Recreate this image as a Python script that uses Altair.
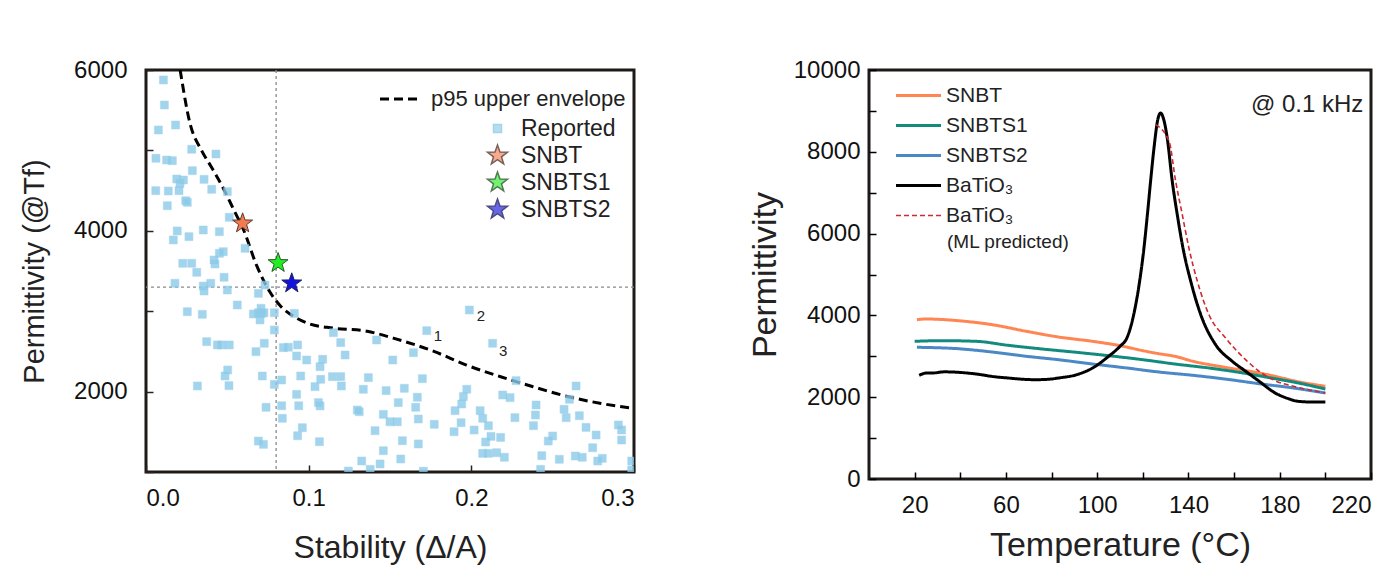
import altair as alt
import pandas as pd

FONT = "Liberation Sans"

# ---------------- left panel data ----------------
rep_x = [0.0107, 0.0113, 0.0182, 0.0076, 0.0281, 0.0430, 0.0061, 0.0127, 0.0162, 0.0285,
         0.0189, 0.0230, 0.0209, 0.0357, 0.0060, 0.0137, 0.0203, 0.0404, 0.0500, 0.0131,
         0.0244, 0.0254, 0.0512, 0.0192, 0.0168, 0.0264, 0.0352, 0.0451, 0.0609, 0.0475,
         0.0451, 0.0226, 0.0281, 0.0418, 0.0424,
         0.0312, 0.0480, 0.0178, 0.0352, 0.0357, 0.0398, 0.0500, 0.0732, 0.0691, 0.0561,
         0.0254, 0.0346, 0.0660, 0.0691, 0.0711, 0.0725, 0.0701, 0.0707, 0.0789, 0.0912,
         0.0789, 0.0373, 0.0439, 0.0465, 0.0512, 0.0727, 0.0676, 0.0844, 0.0875, 0.0932,
         0.0926, 0.0988, 0.0502, 0.0486, 0.0510, 0.0316, 0.0715, 0.0834, 0.0789, 0.0951,
         0.0926, 0.0738, 0.0834, 0.0939, 0.0838, 0.0961, 0.0932, 0.0691, 0.0722,
         0.1988, 0.1726, 0.2131, 0.1152, 0.1197, 0.1224, 0.1418, 0.1644, 0.1517, 0.1086,
         0.1070, 0.1074, 0.1146, 0.1197, 0.1201, 0.1367, 0.1699, 0.1039, 0.1336, 0.1476,
         0.1588, 0.1668, 0.1551, 0.1658, 0.1060, 0.1070, 0.1299, 0.1311, 0.1459, 0.1674,
         0.1500, 0.1545, 0.1772, 0.1408, 0.1576, 0.1674, 0.1066, 0.1459, 0.1326, 0.1439,
         0.1566, 0.1378, 0.1244, 0.1705,
         0.1972, 0.1951, 0.1941, 0.1900, 0.2054, 0.2070, 0.2105, 0.1937, 0.1894, 0.2017,
         0.2193, 0.2238, 0.2268, 0.2275, 0.2121, 0.2180, 0.2088, 0.2070, 0.2105, 0.2156,
         0.2203, 0.2398, 0.2394, 0.2382, 0.2570, 0.2583, 0.2664, 0.2603, 0.2644, 0.2705,
         0.2767, 0.2904, 0.2924, 0.2924, 0.2746, 0.2500, 0.2473, 0.2433, 0.2541, 0.2639,
         0.2682, 0.2777, 0.2805, 0.2986, 0.2986, 0.2426]
rep_y = [5876, 5565, 5316, 5254, 5014, 4955, 4902, 4880, 4872, 4748,
         4644, 4632, 4590, 4640, 4499, 4495, 4499, 4516, 4487, 4312,
         4374, 4354, 4168, 3998, 3886, 3927, 4010, 3989, 3782, 3740,
         3720, 3596, 3596, 3637, 3587,
         3484, 3422, 3347, 3313, 3251, 3347, 3264, 3326, 3222, 3077,
         2994, 2961, 2965, 2981, 2973, 2981, 2891, 3036, 2981, 2973,
         2766, 2621, 2580, 2580, 2580, 2601, 2497, 2547, 2552, 2580,
         2443, 2393, 2269, 2194, 2074, 2070, 2194, 2144, 2090, 2194,
         1966, 1805, 1824, 1824, 1668, 1551, 1451, 1385, 1344,
         3015, 2758, 2601, 2733, 2609, 2455, 2642, 2484, 2393, 2402,
         2310, 2153, 2186, 2186, 2070, 2174, 2161, 2062, 2029, 2012,
         2041, 1930, 1863, 1805, 1863, 1822, 1771, 1750, 1717, 1659,
         1625, 1625, 1593, 1514, 1389, 1349, 1377, 1265, 1137, 1100,
         1162, 1033, 1012, 1010,
         2029, 1938, 1846, 1763, 1763, 1668, 1576, 1613, 1501, 1522,
         1958, 1925, 1676, 2136, 1443, 1430, 1373, 1232, 1232, 1240,
         1183, 1833, 1709, 1576, 1780, 1676, 1700, 1904, 2070, 1555,
         1460, 1585, 1522, 1398, 1302, 1448, 1385, 1203, 1158, 1199,
         1183, 1137, 1170, 1137, 1025, 1033]

env_x = [0.021, 0.027, 0.034, 0.040, 0.0475, 0.054, 0.060, 0.068, 0.076, 0.082, 0.093,
         0.100, 0.115, 0.136, 0.152, 0.177, 0.197, 0.218, 0.238, 0.259, 0.279, 0.300]
env_y = [6000, 5340, 5005, 4800, 4530, 4260, 4010, 3570, 3245, 3080, 2910,
         2845, 2790, 2750, 2665, 2500, 2330, 2185, 2060, 1940, 1855, 1790]

star_names = ["SNBT", "SNBTS1", "SNBTS2"]
star_x = [0.0594, 0.0812, 0.0896]
star_y = [4093, 3600, 3347]

ann_text = ["1", "2", "3"]
ann_x = [0.1795, 0.2059, 0.2195]
ann_y = [2692, 2940, 2505]

ref_x = 0.08
ref_y = 3300

# ---------------- right panel data ----------------
snbt_T = [21, 25, 39, 54, 69, 83, 98, 110, 120, 127, 134, 142, 156, 171, 178, 186, 200]
snbt_e = [3895, 3912, 3871, 3773, 3611, 3472, 3366, 3260, 3138, 3064, 3000, 2878, 2731,
          2592, 2510, 2404, 2266]
snbts1_T = [20, 32, 47, 61, 76, 91, 105, 120, 134, 149, 164, 178, 186, 200]
snbts1_e = [3366, 3382, 3366, 3268, 3178, 3097, 3015, 2917, 2812, 2714, 2592, 2452, 2372, 2200]
snbts2_T = [21, 39, 54, 69, 83, 98, 113, 127, 142, 156, 171, 186, 200]
snbts2_e = [3220, 3186, 3105, 3000, 2917, 2812, 2714, 2616, 2535, 2445, 2330, 2225, 2103]
bto_T = [22, 25, 28, 33, 39, 47, 55, 61, 67, 73, 79, 83, 91, 98, 105, 110, 113, 116,
         118.6, 120.5, 122, 123.4, 124.9, 126.6, 127.8, 129, 130.7, 132.9, 135.1, 137.6,
         141, 145.4, 151.9, 159.2, 165.1, 171, 178, 184, 188, 195, 200]
bto_e = [2535, 2590, 2592, 2620, 2609, 2567, 2500, 2469, 2440, 2428, 2440, 2469, 2550,
         2714, 3000, 3244, 3447, 4017, 4834, 5648, 6462, 7279, 8093, 8800, 8949, 8820,
         8337, 7279, 6462, 5648, 4834, 4017, 3284, 2878, 2633, 2388, 2103, 1960, 1900,
         1880, 1883]
ml_T = [125.6, 131.5, 134.4, 137.3, 140.2, 143.9, 149, 156.3, 165.8, 171, 178, 186, 200]
ml_e = [8663, 8257, 7279, 6462, 5648, 4834, 4017, 3447, 2878, 2633, 2404, 2266, 2103]

temp_ticks = [20, 40, 60, 80, 100, 120, 140, 160, 180, 200, 220]
perm_ticks_right = [0, 1000, 2000, 3000, 4000, 5000, 6000, 7000, 8000, 9000, 10000]
perm_ticks_left = [1000, 2000, 3000, 4000, 5000, 6000]
stab_ticks = [0.0, 0.1, 0.2, 0.3]

STAR = ("M0,-1L0.235,-0.324L0.951,-0.309L0.380,0.124L0.588,0.809L0,0.4"
        "L-0.588,0.809L-0.380,0.124L-0.951,-0.309L-0.235,-0.324Z")
LONG_LINE = "M-3,0H3"

# ---------------- left chart ----------------
rep_df = pd.DataFrame({"x": rep_x, "y": rep_y, "grp": "Reported"})
star_df = pd.DataFrame({"x": star_x, "y": star_y, "grp": star_names})
env_df = pd.DataFrame({"x": env_x, "y": env_y, "env": "p95 upper envelope"})
ann_df = pd.DataFrame({"x": ann_x, "y": ann_y, "t": ann_text})

sx = alt.Scale(domain=[0, 0.3], nice=False, zero=False)
sy = alt.Scale(domain=[1000, 6000], nice=False, zero=False)

x_axis_l = alt.Axis(values=stab_ticks, format=".1f", title="Stability (Δ/A)",
                    tickSize=7, offset=-7, domain=False, grid=False,
                    labelPadding=14, titlePadding=22, tickWidth=1.5, tickColor="#2a2220",
                    titleFontSize=32)
y_axis_l = alt.Axis(values=perm_ticks_left, format="d",
                    labelExpr="datum.value % 2000 == 0 ? datum.label : ''",
                    title="Permittivity (@Tf)", tickSize=7, offset=-7, domain=False,
                    grid=False, labelPadding=19, titlePadding=24, tickWidth=1.5,
                    tickColor="#2a2220", titleFontSize=29)

X_l = alt.X("x:Q", scale=sx, axis=x_axis_l)
Y_l = alt.Y("y:Q", scale=sy, axis=y_axis_l)

left_domain = ["Reported", "SNBT", "SNBTS1", "SNBTS2"]
left_fill = ["#8ccbe9", "#f47a50", "#22ee22", "#1212e0"]
left_stroke = ["#8ccbe9", "#5a3a30", "#2a5a2a", "#202060"]
left_shape = ["square", STAR, STAR, STAR]
left_size = [64, 440, 440, 440]

pt_legend = alt.Legend(title=None, orient="none", legendX=340, legendY=47,
                       labelFontSize=23, labelFont=FONT, labelColor="#222",
                       rowPadding=1, labelOffset=12, labelLimit=400)
fill_enc = alt.Fill("grp:N", scale=alt.Scale(domain=left_domain, range=left_fill),
                    legend=pt_legend)
stroke_enc = alt.Stroke("grp:N", scale=alt.Scale(domain=left_domain, range=left_stroke),
                        legend=pt_legend)
shape_enc = alt.Shape("grp:N", scale=alt.Scale(domain=left_domain, range=left_shape),
                      legend=pt_legend)
size_enc = alt.Size("grp:N", scale=alt.Scale(type="ordinal", domain=left_domain,
                                             range=left_size), legend=pt_legend)

vrule = alt.Chart().mark_rule(color="#8a8a8a", strokeDash=[3, 3], strokeWidth=1.3).encode(
    x=alt.datum(ref_x))
hrule = alt.Chart().mark_rule(color="#8a8a8a", strokeDash=[3, 3], strokeWidth=1.3).encode(
    y=alt.datum(ref_y))

env_line = alt.Chart(env_df).mark_line(color="black", strokeWidth=3,
                                        interpolate="monotone", clip=True).encode(
    x=X_l, y=Y_l,
    strokeDash=alt.StrokeDash(
        "env:N",
        scale=alt.Scale(domain=["p95 upper envelope"], range=[[9, 5]]),
        legend=alt.Legend(title=None, orient="none", legendX=244, legendY=18,
                          symbolType=LONG_LINE, symbolSize=196, symbolStrokeColor="black",
                          symbolStrokeWidth=3, labelFontSize=22, labelFont=FONT,
                          labelColor="#222", labelOffset=19, labelLimit=400)))

rep_pts = alt.Chart(rep_df).mark_point(filled=True, opacity=0.8, strokeWidth=0.5,
                                        clip=True).encode(
    x=X_l, y=Y_l, fill=fill_enc, stroke=stroke_enc, shape=shape_enc, size=size_enc)

star_pts = alt.Chart(star_df).mark_point(filled=True, opacity=1, strokeWidth=1).encode(
    x=X_l, y=Y_l, fill=fill_enc, stroke=stroke_enc, shape=shape_enc, size=size_enc)

ann = alt.Chart(ann_df).mark_text(fontSize=15, font=FONT, color="#222").encode(
    x=X_l, y=Y_l, text="t:N")

left = alt.layer(vrule, hrule, env_line, rep_pts, star_pts, ann).properties(
    width=488, height=402)

# ---------------- right chart ----------------
right_domain = ["SNBT", "SNBTS1", "SNBTS2", "BaTiO₃", "BaTiO₃ ML"]
right_colors = ["#ff8552", "#138a7e", "#4a88c6", "#000000", "#d0282e"]
right_widths = [3, 3, 3, 3, 1.6]
right_dash = [[1, 0], [1, 0], [1, 0], [1, 0], [5, 3]]

frames = []
for name, T, e in [("SNBT", snbt_T, snbt_e), ("SNBTS1", snbts1_T, snbts1_e),
                   ("SNBTS2", snbts2_T, snbts2_e), ("BaTiO₃", bto_T, bto_e),
                   ("BaTiO₃ ML", ml_T, ml_e)]:
    frames.append(pd.DataFrame({"T": T, "eps": e, "series": name}))
line_df = pd.concat(frames, ignore_index=True)

rsx = alt.Scale(domain=[0, 220], nice=False, zero=False)
rsy = alt.Scale(domain=[0, 10000], nice=False)

x_axis_r = alt.Axis(values=temp_ticks, labelExpr="(datum.value - 20) % 40 == 0 ? datum.label : ''",
                    title="Temperature (°C)", tickSize=7, offset=-7, domain=False, grid=False,
                    labelPadding=14, titlePadding=11, tickWidth=1.5, tickColor="black",
                    titleFontSize=34)
y_axis_r = alt.Axis(values=perm_ticks_right, format="d",
                    labelExpr="datum.value % 2000 == 0 ? datum.label : ''",
                    title="Permittivity", tickSize=7, offset=-7, domain=False, grid=False,
                    labelPadding=9, titlePadding=11, tickWidth=1.5, tickColor="black",
                    titleFontSize=34)

r_legend = alt.Legend(title=None, orient="none", legendX=39, legendY=15,
                      symbolType=LONG_LINE, symbolSize=225, labelFontSize=21,
                      labelFont=FONT, labelColor="#222", rowPadding=8, labelOffset=17,
                      labelLimit=400,
                      labelExpr="datum.label == 'BaTiO₃ ML' ? 'BaTiO₃' : datum.label")

lines = alt.Chart(line_df).mark_line(interpolate="monotone").encode(
    x=alt.X("T:Q", scale=rsx, axis=x_axis_r),
    y=alt.Y("eps:Q", scale=rsy, axis=y_axis_r),
    color=alt.Color("series:N", scale=alt.Scale(domain=right_domain, range=right_colors),
                    legend=r_legend),
    strokeWidth=alt.StrokeWidth("series:N",
                                scale=alt.Scale(type="ordinal", domain=right_domain,
                                                range=right_widths),
                                legend=r_legend),
    strokeDash=alt.StrokeDash("series:N",
                              scale=alt.Scale(domain=right_domain, range=right_dash),
                              legend=r_legend),
    order=alt.Order("T:Q"))

note_df = pd.DataFrame({"T": [192], "eps": [9150], "t": ["@ 0.1 kHz"]})
note = alt.Chart(note_df).mark_text(fontSize=24, font=FONT, color="#222").encode(
    x=alt.X("T:Q", scale=rsx), y=alt.Y("eps:Q", scale=rsy), text="t:N")

sub_df = pd.DataFrame({"T": [34.2], "eps": [5795], "t": ["(ML predicted)"]})
sub = alt.Chart(sub_df).mark_text(fontSize=19, font=FONT, color="#222", align="left").encode(
    x=alt.X("T:Q", scale=rsx), y=alt.Y("eps:Q", scale=rsy), text="t:N")

right = alt.layer(lines, note, sub).properties(width=502, height=409)

chart = alt.hconcat(left, right, spacing=109).resolve_scale(
    strokeDash="independent", color="independent", strokeWidth="independent",
    x="independent", y="independent"
).resolve_legend(
    strokeDash="independent", color="independent", strokeWidth="independent",
    fill="independent", stroke="independent", shape="independent", size="independent"
).properties(
    padding={"left": 11, "top": 48, "right": 5, "bottom": 5}
).configure_view(stroke="#1e1a18", strokeWidth=3).configure_axis(
    labelFont=FONT, titleFont=FONT, labelFontSize=24, titleFontSize=28,
    titleFontWeight="normal", labelColor="#111", titleColor="#222"
).configure_legend(labelFont=FONT)

chart.save("out.html", embed_options={"renderer": "svg", "actions": False})
